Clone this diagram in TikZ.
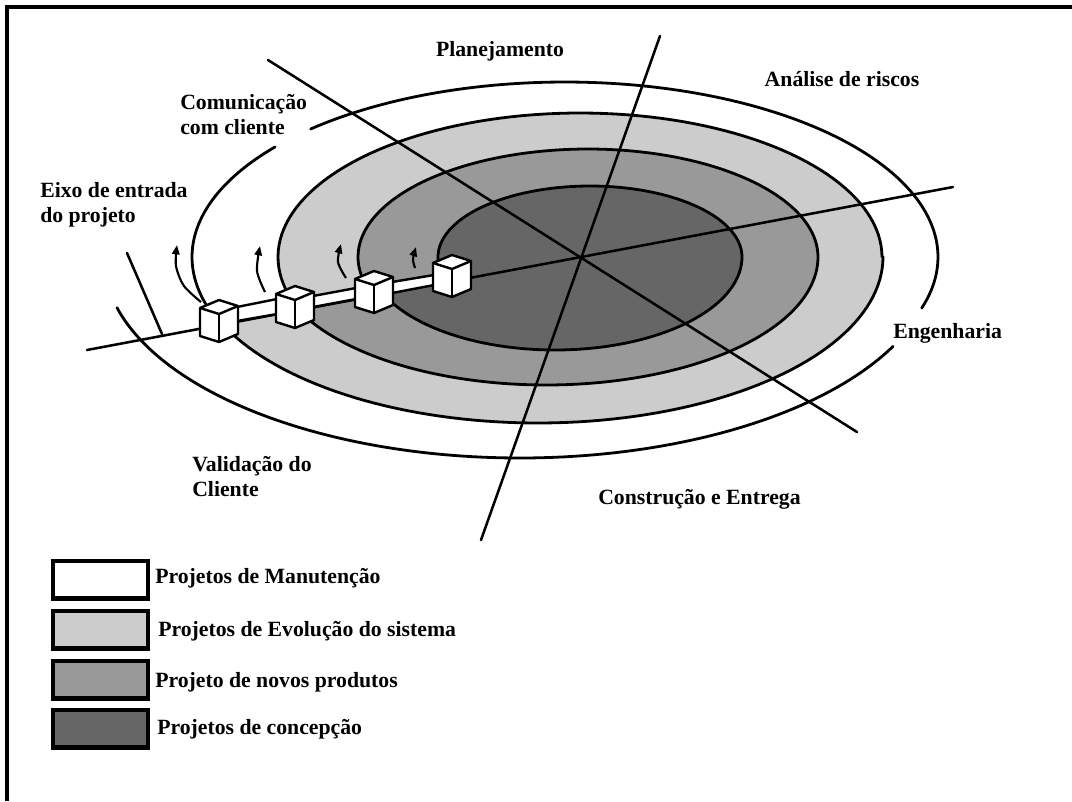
\documentclass[tikz,border=0pt]{standalone}
\usepackage{fontspec}
\setmainfont{Liberation Serif}
\usetikzlibrary{arrows.meta}
\definecolor{bandA}{RGB}{204,204,204}
\definecolor{bandB}{RGB}{153,153,153}
\definecolor{bandC}{RGB}{102,102,102}
\begin{document}
\begin{tikzpicture}[x=0.75pt,y=-0.75pt,
  ring/.style={line width=2.1pt, line join=round, line cap=round},
  axisline/.style={line width=1.9pt, line cap=round},
  cubeline/.style={line width=1.8pt, line join=round},
  uparrow/.style={line width=1.6pt, -{Triangle[length=7pt,width=5.5pt]}},
  lbl/.style={font=\bfseries\fontsize{16.3}{19}\selectfont, inner sep=0pt, align=left},
  keybox/.style={draw=black, line width=3.2pt, minimum width=71pt, minimum height=28pt, inner sep=0pt},
  cube/.pic={
    \filldraw[cubeline, fill=white] (0,0) -- (-19,-6) -- (-19,-34) -- (0,-42) -- (19,-36) -- (19,-8) -- cycle;
    \draw[cubeline] (-19,-34) -- (0,-28) -- (19,-36);
    \draw[cubeline] (0,-28) -- (0,0);
  }]
\useasboundingbox (0,0) rectangle (1072,801);
\fill[white] (0,0) rectangle (1072,801);

% frame (top and left edges)
\draw[line width=3pt] (7,801) -- (7,7) -- (1072,7);

% entry axis end points
\coordinate (axL) at (87,350);
\coordinate (axR) at (953,187);

% spiral bands: each band is a lower half ellipse joined to an upper half ellipse,
% closed along the entry axis between two cubes
\fill[bandA] plot[domain=-153:0, samples=80, variable=\t] ({538+345*cos(\t)},{257-166*sin(\t)})
  -- plot[domain=0:195, samples=90, variable=\t] ({580+302*cos(\t)},{257-144*sin(\t)})
  -- (277,314) -- (236,322) -- cycle;
\fill[bandB] plot[domain=-151:0, samples=80, variable=\t] ({546+272*cos(\t)},{257-128*sin(\t)})
  -- plot[domain=0:195, samples=90, variable=\t] ({588+230*cos(\t)},{257-108*sin(\t)})
  -- (356,299) -- (312,308) -- cycle;
\fill[bandC] plot[domain=-153:0, samples=80, variable=\t] ({555+187*cos(\t)},{257-93*sin(\t)})
  -- plot[domain=0:190, samples=90, variable=\t] ({590+152*cos(\t)},{257-71*sin(\t)})
  -- (434,285) -- (391,293) -- cycle;

% band outlines
\draw[ring] plot[domain=-153:0, samples=80, variable=\t] ({538+345*cos(\t)},{257-166*sin(\t)})
  -- plot[domain=0:195, samples=90, variable=\t] ({580+302*cos(\t)},{257-144*sin(\t)});
\draw[ring] plot[domain=-151:0, samples=80, variable=\t] ({546+272*cos(\t)},{257-128*sin(\t)})
  -- plot[domain=0:195, samples=90, variable=\t] ({588+230*cos(\t)},{257-108*sin(\t)});
\draw[ring] plot[domain=-153:0, samples=80, variable=\t] ({555+187*cos(\t)},{257-93*sin(\t)})
  -- plot[domain=0:190, samples=90, variable=\t] ({590+152*cos(\t)},{257-71*sin(\t)});

% outer arcs of the spiral (gaps leave room for the phase names)
\draw[ring] plot[domain=-17:133, samples=100, variable=\t] ({565+373*cos(\t)},{257-175*sin(\t)});
\draw[ring] plot[domain=141:197, samples=40, variable=\t] ({565+373*cos(\t)},{257-175*sin(\t)});
\draw[ring] plot[domain=-165.4:-26.4, samples=100, variable=\t] ({520+416.5*cos(\t)},{257-201*sin(\t)});

% phase division lines
\coordinate (d1a) at (268,60);  \coordinate (d1b) at (857,432);
\coordinate (d2a) at (660,36);  \coordinate (d2b) at (481,540);
\draw[axisline] (d1a) -- (d1b);
\draw[axisline] (d2a) -- (d2b);

% entry axis and its tick
\coordinate (tk1) at (127,253); \coordinate (tk2) at (162,334);
\draw[axisline] (tk1) -- (tk2);
\draw[axisline] (axL) -- (axR);

% bars joining the project cubes
\filldraw[cubeline, fill=white] (237,307) -- (277,299) -- (277,314) -- (237,321) -- cycle;
\filldraw[cubeline, fill=white] (313,296) -- (356,288) -- (356,299) -- (313,307) -- cycle;
\filldraw[cubeline, fill=white] (392,282) -- (434,275) -- (434,285) -- (392,293) -- cycle;

% project cubes
\pic (q1) at (219,342) {cube};
\pic (q2) at (295,328) {cube};
\pic (q3) at (374,313) {cube};
\pic (q4) at (452,297) {cube};

% upward arrows
\draw[uparrow] plot[smooth] coordinates {(201,302) (184,286) (176,266) (177,245)};
\draw[uparrow] plot[smooth] coordinates {(265,292) (257,271) (260,246)};
\draw[uparrow] plot[smooth] coordinates {(346,278) (338,262) (341,244)};
\draw[uparrow] plot[smooth] coordinates {(415,268) (413,259) (416,247)};

% phase labels
\node[lbl, anchor=base] (tPlan) at (500,56) {Planejamento};
\node[lbl, anchor=base] (tRisk) at (842,86) {Análise de riscos};
\node[lbl, anchor=north west] (tCom) at (180,94) {Comunicação\\com cliente};
\node[lbl, anchor=north west] (tEixo) at (40,182) {Eixo de entrada\\do projeto};
\node[lbl, anchor=base west] (tEng) at (893,338) {Engenharia};
\node[lbl, anchor=north west] (tVal) at (192,456) {Validação do\\Cliente};
\node[lbl, anchor=base west] (tCons) at (598,504) {Construção e Entrega};

% key
\node[keybox, fill=white, anchor=north west] (k1) at (51,559) {};
\node[keybox, fill=bandA, anchor=north west] (k2) at (51,609) {};
\node[keybox, fill=bandB, anchor=north west] (k3) at (51,659) {};
\node[keybox, fill=bandC, anchor=north west] (k4) at (51,708) {};
\node[lbl, anchor=base west] (l1) at (155,583) {Projetos de Manutenção};
\node[lbl, anchor=base west] (l2) at (158,636) {Projetos de Evolução do sistema};
\node[lbl, anchor=base west] (l3) at (155,687) {Projeto de novos produtos};
\node[lbl, anchor=base west] (l4) at (157,734) {Projetos de concepção};
\end{tikzpicture}
\end{document}
